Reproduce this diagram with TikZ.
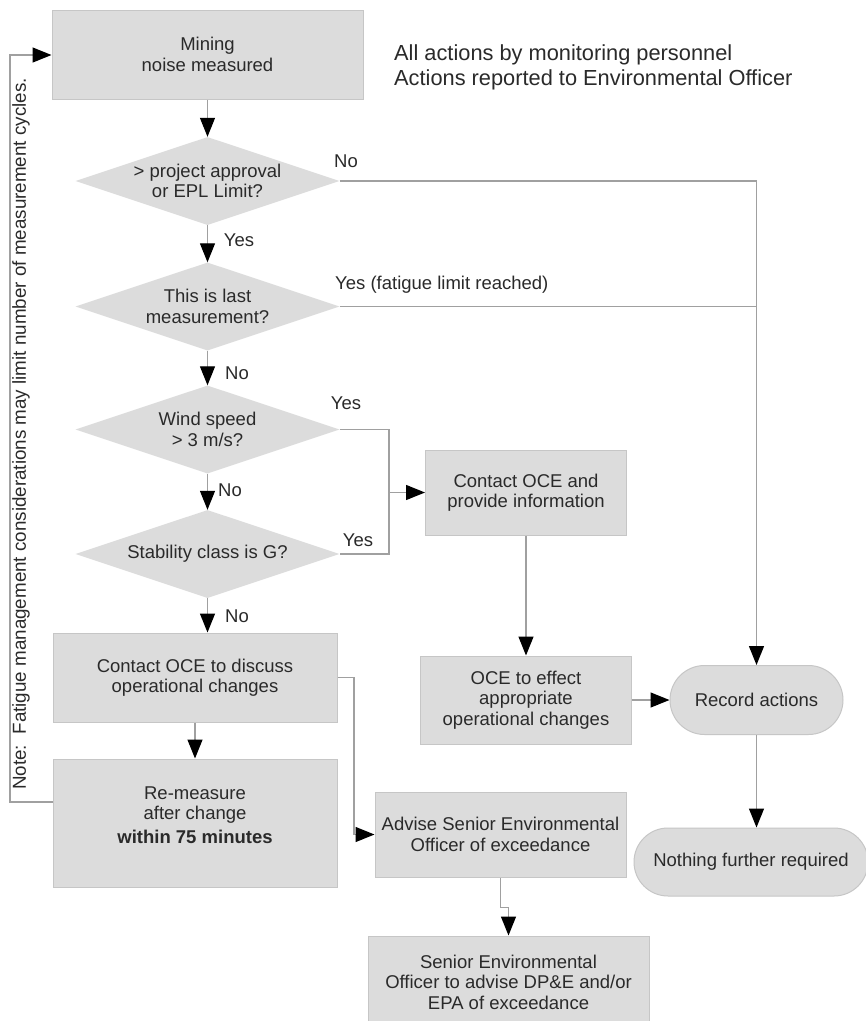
\documentclass[tikz,border=0pt]{standalone}
\usepackage{fontspec}
\setmainfont{Liberation Sans}
\usetikzlibrary{arrows.meta,shapes.geometric,shapes.misc}
\definecolor{boxfill}{HTML}{DCDCDC}
\definecolor{boxedge}{HTML}{C6C6C6}
\definecolor{wiregray}{HTML}{A0A0A0}
\definecolor{ink}{HTML}{2A2A2A}
\def\boxfont{\fontsize{18.5}{20.5}\selectfont}
\tikzset{
	stepbox/.style={draw=boxedge, line width=1pt, fill=boxfill, text=ink, font=\boxfont, align=center, inner sep=0pt},
	decision/.style={diamond, fill=boxfill, text=ink, font=\boxfont, align=center, inner sep=0pt, aspect=3, minimum width=264pt, minimum height=88pt},
	terminal/.style={rounded rectangle, draw=boxedge, line width=1pt, fill=boxfill, text=ink, font=\boxfont, inner sep=0pt},
	answer/.style={text=ink, font=\boxfont, inner sep=0pt},
	wireline/.style={draw=wiregray, line width=1.3pt},
	flowline/.style={wireline, -{Triangle[length=19pt, width=15pt, color=black]}},
}

\begin{document}
\begin{tikzpicture}[x=1pt, y=-1pt]
			%%%%% START %%%%%
			
			\path[use as bounding box, fill=white] (0,0) rectangle (866,1021);
			\clip (0,0) rectangle (866,1021);
			
			\node[stepbox, minimum width=311pt, minimum height=89pt] (measured) at (207.5,54.5) {Mining\\noise measured};
			\node[anchor=west, align=left, text=ink, font=\fontsize{21.8}{25}\selectfont, inner sep=0pt] (remark) at (394,67.5) {All actions by monitoring personnel\\Actions reported to Environmental Officer};
			
			\node[decision] (approval) at (207.5,181) {> project approval\\or EPL Limit?};
			\node[decision] (lastmeas) at (207.5,306.5) {This is last\\measurement?};
			\node[decision] (wind) at (207.5,429.5) {Wind speed\\> 3 m/s?};
			\node[decision] (stability) at (207.5,554) {Stability class is G?};
			
			\node[stepbox, minimum width=284pt, minimum height=89pt] (discuss) at (195,677.5) {Contact OCE to discuss\\operational changes};
			\node[stepbox, minimum width=284pt, minimum height=128pt] (remeasure) at (195,823) {Re-measure\\after change\\[3pt]\textbf{within 75 minutes}\\[-4pt]\mbox{}};
			
			\node[stepbox, minimum width=201pt, minimum height=85pt] (inform) at (526,492.5) {Contact OCE and\\provide information};
			\node[stepbox, minimum width=211pt, minimum height=88pt] (effect) at (526,700) {OCE to effect\\appropriate\\operational changes};
			\node[stepbox, minimum width=251pt, minimum height=85pt] (advise) at (500.5,834.5) {Advise Senior Environmental\\Officer of exceedance};
			\node[stepbox, minimum width=281pt, minimum height=92pt] (senior) at (508.5,982) {Senior Environmental\\Officer to advise DP\&E and/or\\EPA of exceedance};
			
			\node[terminal, minimum width=173pt, minimum height=69pt] (record) at (756.5,700) {Record actions};
			\node[terminal, minimum width=234pt, minimum height=68pt] (nothing) at (751,862) {Nothing further required};
			
			\node[rotate=90, text=ink, font=\fontsize{18.8}{22}\selectfont, inner sep=0pt] (note) at (21,434) {Note:\ \ Fatigue management considerations may limit number of measurement cycles.};
			
			\node[answer] (noA) at (346,161) {No};
			\node[answer] (yesA) at (239,240) {Yes};
			\node[answer, anchor=west] (yesB) at (335,285) {Yes (fatigue limit reached)};
			\node[answer] (noB) at (237,373) {No};
			\node[answer] (yesC) at (346,403) {Yes};
			\node[answer] (noC) at (230,490) {No};
			\node[answer] (yesD) at (358,540) {Yes};
			\node[answer] (noD) at (237,616) {No};
			
			\coordinate (looptop) at (10,55);
			\coordinate (loopbot) at (10,802);
			\coordinate (yesbus) at (389,492.5);
			\coordinate (jog) at (354,677.5);
			
			\draw[flowline] (measured) -- (approval);
			\draw[flowline] (approval) -- (lastmeas);
			\draw[flowline] (lastmeas) -- (wind);
			\draw[flowline] (wind) -- (stability);
			\draw[flowline] (stability.south) -- (stability.south |- discuss.north);
			\draw[flowline] (discuss) -- (remeasure);
			\draw[flowline] (remeasure.west |- loopbot) -| (looptop) -- (measured.west |- looptop);
			
			\draw[flowline] (approval.east) -| (record.north);
			\draw[wireline] (lastmeas.east) -- (lastmeas.east -| record.north);
			\draw[wireline] (wind.east) -| (yesbus) |- (stability.east);
			\draw[flowline] (yesbus) -- (inform.west);
			\draw[flowline] (inform) -- (effect);
			\draw[flowline] (effect) -- (record);
			\draw[flowline] (record.south) -- (record.south |- nothing.north);
			\draw[flowline] (discuss.east) -- (jog) |- (advise.west);
			\draw[flowline] (advise.south) -- ++(0,30) -| (senior.north);
			
			%%%%% END %%%%%
\end{tikzpicture}
\end{document}
